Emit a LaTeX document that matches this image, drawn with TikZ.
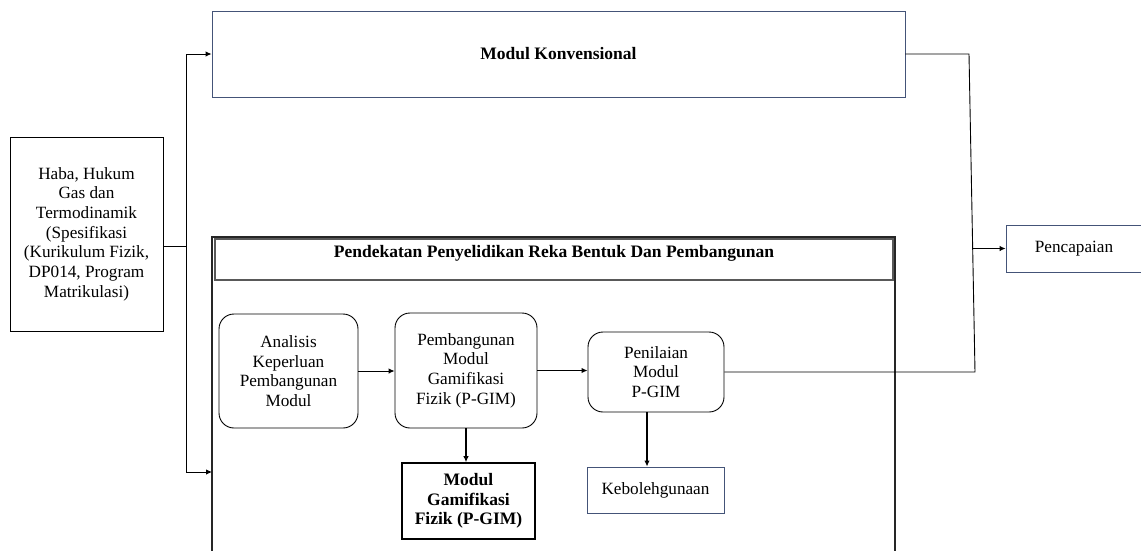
\documentclass[tikz,border=0pt]{standalone}
\usepackage{fontspec}
\setmainfont{Liberation Serif}
\usetikzlibrary{arrows.meta}
\definecolor{bluegray}{RGB}{68,84,120}
\tikzset{
  every node/.style={font=\fontsize{17.2}{19.7}\selectfont, align=center, inner sep=0pt},
  boldfont/.style={font=\fontsize{17.5}{19.7}\selectfont\bfseries},
  plainbox/.style={draw=black, line width=0.9pt},
  bluebox/.style={draw=bluegray, line width=0.9pt},
  roundbox/.style={draw=black, line width=0.9pt, rounded corners=15pt},
  boldbox/.style={draw=black, line width=1.6pt, boldfont},
  conn/.style={draw=black, line width=0.9pt},
  arr/.style={conn, -{Latex[length=6pt,width=5.5pt]}},
  thickarr/.style={draw=black, line width=1.6pt, -{Latex[length=6pt,width=5.5pt]}}
}
\begin{document}
\begin{tikzpicture}[x=1pt,y=-1pt]
\useasboundingbox (0,0) rectangle (1141,550);
% boxes
\node[plainbox, minimum width=153pt, minimum height=194pt] (src) at (86.5,234)
  {Haba, Hukum\\Gas dan\\Termodinamik\\(Spesifikasi\\(Kurikulum Fizik,\\DP014, Program\\Matrikulasi)};
\node[bluebox, minimum width=693pt, minimum height=86pt, boldfont] (mk) at (558.5,54) {Modul Konvensional};
% container
\coordinate (cTL) at (212,237);
\coordinate (cTR) at (895,237);
\coordinate (cBL) at (212,560);
\coordinate (cBR) at (895,560);
\draw[draw=black!85, line width=1.2pt] (cBL) -- (cTL) -- (cTR) -- (cBR);
\node[draw=black!65, line width=1.8pt, minimum width=678pt, minimum height=41pt] (tb) at (554,259.5) {};
\node[boldfont, anchor=center] (tbt) at (554,253) {Pendekatan Penyelidikan Reka Bentuk Dan Pembangunan};
\node[roundbox, minimum width=139pt, minimum height=114pt] (an) at (288.5,371) {Analisis\\Keperluan\\Pembangunan\\Modul};
\node[roundbox, minimum width=142pt, minimum height=115pt] (pb) at (466,370.5) {Pembangunan\\Modul\\Gamifikasi\\Fizik (P-GIM)};
\node[roundbox, minimum width=136pt, minimum height=80pt] (pn) at (656,372) {Penilaian\\Modul\\P-GIM};
\node[boldbox, minimum width=133pt, minimum height=76pt] (mg) at (468.5,501) {Modul\\Gamifikasi\\Fizik (P-GIM)};
\node[bluebox, minimum width=137pt, minimum height=46pt] (kb) at (655.5,490) {Kebolehgunaan};
\node[bluebox, minimum width=136pt, minimum height=47pt] (pc) at (1074,248.5) {Pencapaian};
% left connectors
\coordinate (j1) at (186,246);
\coordinate (jtop) at (186,54);
\coordinate (jbot) at (186,472);
\coordinate (cin) at (212,472);
\draw[conn] (src.east|-j1) -- (j1);
\draw[conn] (jtop) -- (jbot);
\draw[arr] (jtop) -- (mk.west);
\draw[arr] (jbot) -- (cin);
% inner connectors
\draw[arr] (an.east) -- (pb.west|-an.east);
\draw[thickarr] (pb.east) -- (pn.west|-pb.east);
\draw[thickarr] (pb.south) -- (pb.south|-mg.north);
\coordinate (pnd) at (647,412);
\draw[thickarr] (pnd) -- (pnd|-kb.north);
% right connectors
\coordinate (r1) at (969,54);
\coordinate (r2) at (975,372);
\coordinate (rb) at (973,248.5);
\draw[conn] (mk.east) -- (r1) -- (r2) -- (pn.east);
\draw[arr] (rb) -- (pc.west);
\end{tikzpicture}
\end{document}
